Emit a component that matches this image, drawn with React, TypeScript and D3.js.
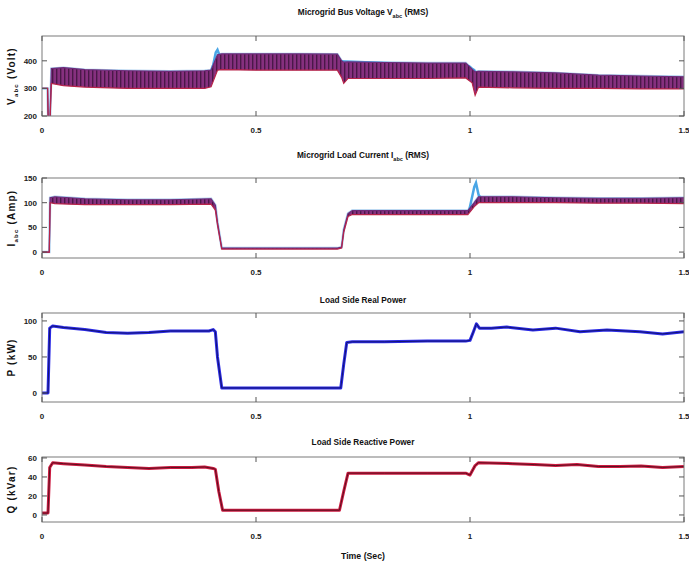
import React from 'react';
import * as d3 from 'd3';

// ---------- data ----------
const xTicks = [0, 0.5, 1, 1.5];
const xTickLabels = ['0', '0.5', '1', '1.5'];

// Panel 1: bus voltage (RMS) envelope of the oscillating band
const vT = [0, 0.013, 0.015, 0.018, 0.022, 0.05, 0.1, 0.2, 0.3, 0.38, 0.395, 0.41, 0.42, 0.5, 0.6, 0.69, 0.7, 0.705, 0.715, 0.8, 0.9, 0.99, 1.005, 1.012, 1.02, 1.1, 1.2, 1.3, 1.4, 1.5];
const vHi = [300, 300, 150, 150, 372, 375, 368, 364, 362, 364, 366, 422, 425, 425, 425, 424, 400, 395, 396, 394, 392, 392, 370, 360, 362, 360, 356, 348, 345, 342];
const vLo = [300, 300, 150, 150, 318, 310, 305, 300, 300, 300, 306, 366, 368, 366, 366, 366, 340, 318, 336, 336, 336, 338, 320, 275, 305, 302, 300, 300, 298, 298];
const vBlueT = [0.392, 0.4, 0.406, 0.41, 0.416, 0.998, 1.004, 1.01, 1.016];
const vBlueV = [350, 385, 430, 440, 415, 380, 372, 366, 345];
const vTicks = [200, 300, 400];

// Panel 2: load current (RMS)
const iT = [0, 0.017, 0.019, 0.03, 0.1, 0.2, 0.3, 0.395, 0.405, 0.41, 0.42, 0.5, 0.69, 0.7, 0.705, 0.715, 0.725, 0.8, 0.9, 0.995, 1.01, 1.02, 1.1, 1.2, 1.3, 1.4, 1.5];
const iHi = [0, 0, 110, 112, 108, 106, 106, 108, 95, 60, 8, 8, 8, 10, 45, 78, 84, 84, 84, 84, 100, 112, 112, 110, 109, 109, 110];
const iLo = [0, 0, 100, 98, 96, 96, 96, 97, 85, 55, 6, 6, 6, 8, 40, 72, 76, 76, 76, 76, 92, 100, 100, 100, 99, 99, 98];
const iBlueT = [0.998, 1.004, 1.01, 1.014, 1.02, 1.026];
const iBlueV = [84, 108, 132, 140, 116, 108];
const iTicks = [0, 50, 100, 150];

// Panel 3: load side real power (kW)
const pT = [0, 0.014, 0.018, 0.025, 0.05, 0.1, 0.15, 0.2, 0.25, 0.3, 0.35, 0.39, 0.4, 0.405, 0.41, 0.42, 0.5, 0.6, 0.698, 0.705, 0.712, 0.725, 0.8, 0.9, 0.99, 1.0, 1.008, 1.015, 1.022, 1.05, 1.086, 1.147, 1.2, 1.257, 1.32, 1.397, 1.45, 1.5];
const pV = [0, 0, 90, 93, 91, 88, 84, 83, 84, 86, 86, 86, 88, 85, 50, 7, 7, 7, 7, 40, 70, 71, 71, 72, 72, 73, 85, 96, 90, 90, 91.5, 87.5, 90, 85, 87.5, 85, 82, 85];
const pTicks = [0, 50, 100];

// Panel 4: load side reactive power (kVar)
const qT = [0, 0.014, 0.018, 0.025, 0.05, 0.1, 0.15, 0.2, 0.25, 0.3, 0.35, 0.38, 0.4, 0.405, 0.413, 0.422, 0.5, 0.6, 0.695, 0.705, 0.715, 0.8, 0.9, 0.99, 1.0, 1.012, 1.02, 1.1, 1.15, 1.2, 1.25, 1.3, 1.35, 1.4, 1.45, 1.5];
const qV = [2, 2, 50, 55, 54, 52.5, 51, 50, 49, 50, 50, 50.5, 49, 48, 25, 5, 5, 5, 5, 25, 44, 44, 44, 44, 42, 52, 55, 54, 53, 52, 53, 51, 51, 51.5, 50, 51];
const qTicks = [0, 20, 40, 60];

// ---------- layout ----------
const W = 689;
const H = 567;
const L = 42;
const R = 684;
const FONT = "'Liberation Sans Narrow', 'Arial Narrow', 'Liberation Sans', Arial, sans-serif";

const x = d3.scaleLinear().domain([0, 1.5]).range([L, R]);

type PanelProps = {
  id: string;
  top: number;
  bottom: number;
  domain: [number, number];
  ticks: number[];
  title: React.ReactNode;
  titleY: number;
  ylabel: React.ReactNode;
  children: (y: d3.ScaleLinear<number, number>) => React.ReactNode;
};

function Panel({ id, top, bottom, domain, ticks, title, titleY, ylabel, children }: PanelProps) {
  const y = d3.scaleLinear().domain(domain).range([bottom, top]);
  const tl = 5;
  const cx = (L + R) / 2;
  return (
    <g>
      <defs>
        <clipPath id={`clip-${id}`}>
          <rect x={L} y={top} width={R - L} height={bottom - top} />
        </clipPath>
      </defs>
      <g transform={`translate(${cx},${titleY}) scale(0.92,1)`}>
        <text x={0} y={0} textAnchor="middle" fontFamily={FONT} fontSize={9} fontWeight="bold" fill="#111">
          {title}
        </text>
      </g>
      <g clipPath={`url(#clip-${id})`}>{children(y)}</g>
      <rect x={L} y={top} width={R - L} height={bottom - top} fill="none" stroke="#7a7a7a" strokeWidth={1} />
      {xTicks.map((t, k) => (
        <g key={`x${k}`}>
          <line x1={x(t)} x2={x(t)} y1={bottom} y2={bottom - tl} stroke="#555" />
          <line x1={x(t)} x2={x(t)} y1={top} y2={top + tl} stroke="#555" />
          <text x={x(t)} y={bottom + 17} textAnchor="middle" fontFamily={FONT} fontSize={8} fontWeight="bold" fill="#222">
            {xTickLabels[k]}
          </text>
        </g>
      ))}
      {ticks.map((v, k) => (
        <g key={`y${k}`}>
          <line x1={L} x2={L + tl} y1={y(v)} y2={y(v)} stroke="#555" />
          <line x1={R} x2={R - tl} y1={y(v)} y2={y(v)} stroke="#555" />
          <text x={L - 5} y={y(v) + 3} textAnchor="end" fontFamily={FONT} fontSize={8} fontWeight="bold" fill="#222">
            {v}
          </text>
        </g>
      ))}
      <text
        transform={`translate(15,${(top + bottom) / 2}) rotate(-90)`}
        textAnchor="middle"
        fontFamily={FONT}
        fontSize={10}
        fontWeight="bold"
        letterSpacing={1.2}
        fill="#111"
      >
        {ylabel}
      </text>
    </g>
  );
}

function Band({ t, hi, lo, y, blueT, blueV }: { t: number[]; hi: number[]; lo: number[]; y: d3.ScaleLinear<number, number>; blueT: number[]; blueV: number[] }) {
  const idx = t.map((_, i) => i);
  const area = d3
    .area<number>()
    .x((i) => x(t[i]))
    .y0((i) => y(lo[i]))
    .y1((i) => y(hi[i]));
  const lineHi = d3.line<number>().x((i) => x(t[i])).y((i) => y(hi[i]));
  const lineLo = d3.line<number>().x((i) => x(t[i])).y((i) => y(lo[i]));
  const bi = blueT.map((_, i) => i);
  const blue = d3.line<number>().x((i) => x(blueT[i])).y((i) => y(blueV[i]));
  return (
    <g>
      <path d={lineHi(idx) || ''} fill="none" stroke="#6aa8e0" strokeWidth={2.5} opacity={0.6} />
      <path d={blue(bi) || ''} fill="none" stroke="#4aa6e6" strokeWidth={2.5} />
      <path d={area(idx) || ''} fill="url(#stripes)" stroke="none" />
      <path d={lineHi(idx) || ''} fill="none" stroke="#6e2a78" strokeWidth={1.2} />
      <path d={lineLo(idx) || ''} fill="none" stroke="#b8244a" strokeWidth={1.2} />
    </g>
  );
}

function Trace({ t, v, y, color, core }: { t: number[]; v: number[]; y: d3.ScaleLinear<number, number>; color: string; core: string }) {
  const idx = t.map((_, i) => i);
  const line = d3.line<number>().x((i) => x(t[i])).y((i) => y(v[i]));
  const d = line(idx) || '';
  return (
    <g>
      <path d={d} fill="none" stroke={color} strokeWidth={3} strokeLinejoin="round" />
      <path d={d} fill="none" stroke={core} strokeWidth={1} strokeLinejoin="round" />
    </g>
  );
}

const sub = (s: string) => (
  <tspan fontSize={6} dy={3}>
    {s}
  </tspan>
);

export default function App() {
  return (
    <svg width={W} height={H} style={{ position: 'absolute', left: 0, top: 0, background: '#fff' }}>
      <defs>
        <pattern id="stripes" width={4} height={10} patternUnits="userSpaceOnUse">
          <rect x={0} y={0} width={4} height={10} fill="#86307f" />
          <rect x={0} y={0} width={1.4} height={10} fill="#4a1848" />
        </pattern>
      </defs>
      <rect x={0} y={0} width={W} height={H} fill="#fff" />

      <Panel
        id="v"
        top={36}
        bottom={116}
        domain={[200, 490]}
        ticks={vTicks}
        titleY={15}
        title={
          <>
            Microgrid Bus Voltage V{sub('abc')}
            <tspan dy={-3}> (RMS)</tspan>
          </>
        }
        ylabel={
          <>
            V{sub('abc')}
            <tspan dy={-3}> (Volt)</tspan>
          </>
        }
      >
        {(y) => <Band t={vT} hi={vHi} lo={vLo} y={y} blueT={vBlueT} blueV={vBlueV} />}
      </Panel>

      <Panel
        id="i"
        top={178}
        bottom={258}
        domain={[-12, 150]}
        ticks={iTicks}
        titleY={158}
        title={
          <>
            Microgrid Load Current I{sub('abc')}
            <tspan dy={-3}> (RMS)</tspan>
          </>
        }
        ylabel={
          <>
            I{sub('abc')}
            <tspan dy={-3}> (Amp)</tspan>
          </>
        }
      >
        {(y) => <Band t={iT} hi={iHi} lo={iLo} y={y} blueT={iBlueT} blueV={iBlueV} />}
      </Panel>

      <Panel
        id="p"
        top={313}
        bottom={402}
        domain={[-12.5, 111]}
        ticks={pTicks}
        titleY={303}
        title="Load Side Real Power"
        ylabel="P (kW)"
      >
        {(y) => <Trace t={pT} v={pV} y={y} color="#2a2ae6" core="#141470" />}
      </Panel>

      <Panel
        id="q"
        top={457}
        bottom={522}
        domain={[-7.4, 61]}
        ticks={qTicks}
        titleY={445}
        title="Load Side Reactive Power"
        ylabel="Q (kVar)"
      >
        {(y) => <Trace t={qT} v={qV} y={y} color="#cc1a40" core="#5a1020" />}
      </Panel>

      <g transform={`translate(${(L + R) / 2},559) scale(0.92,1)`}>
        <text x={0} y={0} textAnchor="middle" fontFamily={FONT} fontSize={9.5} fontWeight="bold" fill="#111">
          Time (Sec)
        </text>
      </g>
    </svg>
  );
}
